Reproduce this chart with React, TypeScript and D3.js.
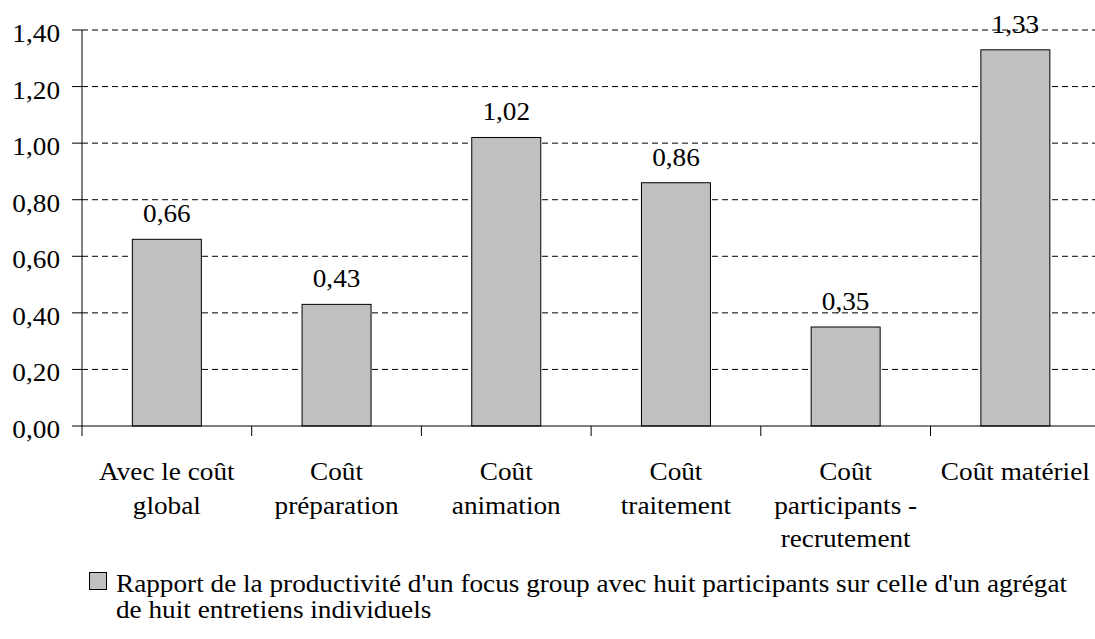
import React, { useEffect } from "react";
import * as d3 from "d3";

const categories: string[][] = [
  ["Avec le coût", "global"],
  ["Coût", "préparation"],
  ["Coût", "animation"],
  ["Coût", "traitement"],
  ["Coût", "participants -", "recrutement"],
  ["Coût matériel"],
];
const values: number[] = [0.66, 0.43, 1.02, 0.86, 0.35, 1.33];
const yTicks: number[] = [0, 0.2, 0.4, 0.6, 0.8, 1.0, 1.2, 1.4];
const legendLines: string[] = [
  "Rapport de la productivité d'un focus group avec huit participants sur celle d'un agrégat",
  "de huit entretiens individuels",
];

const W = 1095;
const H = 639;
const FS = 25;
const SX = 1.09;

const fmt = (v: number) => v.toFixed(2).replace(".", ",");

function T({ x, y, anchor = "middle", children }: { x: number; y: number; anchor?: string; children: React.ReactNode }) {
  return (
    <text
      x={0}
      y={0}
      transform={`translate(${x},${y}) scale(${SX},1)`}
      textAnchor={anchor}
      fontSize={FS}
      fill="#000"
      fontFamily="serif"
    >
      {children}
    </text>
  );
}

export default function App() {
  useEffect(() => {
    document.body.style.margin = "0";
  }, []);

  const x0 = 82;
  const bandW = 169.7;
  const idx = categories.map((_, i) => String(i));
  const x = d3
    .scaleBand<string>()
    .domain(idx)
    .range([x0, x0 + bandW * categories.length])
    .paddingInner(0)
    .paddingOuter(0);
  const y = d3.scaleLinear().domain([0, 1.4]).range([426, 30]);
  const barW = 69;
  const xRight = x0 + bandW * categories.length;

  return (
    <svg width={W} height={H} style={{ display: "block", background: "#fff" }}>
      {yTicks.filter((t) => t > 0).map((t) => (
        <line
          key={"g" + t}
          x1={x0}
          x2={xRight}
          y1={y(t)}
          y2={y(t)}
          stroke="#000"
          strokeWidth={1}
          strokeDasharray="6,4"
        />
      ))}
      {values.map((v, i) => {
        const cx = (x(String(i)) as number) + x.bandwidth() / 2;
        return (
          <g key={"b" + i}>
            <rect
              x={cx - barW / 2}
              y={y(v)}
              width={barW}
              height={y(0) - y(v)}
              fill="#c0c0c0"
              stroke="#000"
              strokeWidth={1}
            />
            <T x={cx} y={y(v) - 17}>{fmt(v)}</T>
          </g>
        );
      })}
      <line x1={x0} x2={x0} y1={y(1.4)} y2={y(0) + 10} stroke="#000" strokeWidth={1} />
      {yTicks.map((t) => (
        <g key={"t" + t}>
          <line x1={x0 - 10} x2={x0} y1={y(t)} y2={y(t)} stroke="#000" strokeWidth={1} />
          <T x={60} y={y(t) + 12} anchor="end">{fmt(t)}</T>
        </g>
      ))}
      <line x1={x0} x2={xRight} y1={y(0)} y2={y(0)} stroke="#000" strokeWidth={1} />
      {idx.map((k, i) => (
        <line
          key={"xt" + i}
          x1={(x(k) as number) + x.bandwidth()}
          x2={(x(k) as number) + x.bandwidth()}
          y1={y(0)}
          y2={y(0) + 10}
          stroke="#000"
          strokeWidth={1}
        />
      ))}
      {categories.map((lines, i) => {
        const cx = (x(String(i)) as number) + x.bandwidth() / 2;
        return (
          <g key={"c" + i}>
            {lines.map((l, j) => (
              <T key={j} x={cx} y={480 + j * 33.5}>{l}</T>
            ))}
          </g>
        );
      })}
      <rect x={89.5} y={572.5} width={17} height={17} fill="#c0c0c0" stroke="#000" strokeWidth={1} />
      {legendLines.map((l, j) => (
        <T key={"l" + j} x={116} y={592 + j * 26} anchor="start">{l}</T>
      ))}
    </svg>
  );
}
